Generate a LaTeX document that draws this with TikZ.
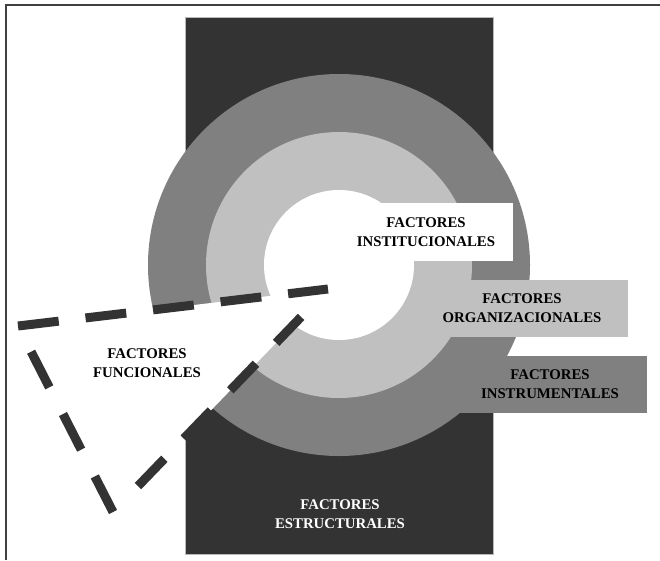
\documentclass[tikz,border=0pt]{standalone}
\usepackage{fontspec}
\setmainfont{Liberation Serif}
\usepackage{xcolor}
\usepackage{tikz}
\definecolor{darkfill}{HTML}{333333}
\definecolor{midfill}{HTML}{808080}
\definecolor{lightfill}{HTML}{C0C0C0}

\begin{document}
\begin{tikzpicture}[x=1pt,y=-1pt,
            font=\bfseries\fontsize{14.8}{19}\selectfont]
        \tikzstyle{factor}=[align=center,inner sep=0pt]
        \tikzstyle{factorbox}=[factor,anchor=center]
        \tikzstyle{dashline}=[draw=darkfill,line width=9pt]

        \useasboundingbox (0,0) rectangle (660,560);
        \draw[line width=2pt,black!75] (6,560) -- (6,4.5) -- (660,4.5);

        \draw[fill=darkfill,draw=gray!55,line width=1pt] (185,17) rectangle (493,554);
        \fill[midfill] (339,265) circle (191);
        \node[factorbox,fill=midfill,minimum width=194pt,minimum height=57pt] (instr) at (550,384.5) {FACTORES\\INSTRUMENTALES};
        \fill[lightfill] (339,265) circle (133);
        \node[factorbox,fill=lightfill,minimum width=212pt,minimum height=57pt] (org) at (522,308.5) {FACTORES\\ORGANIZACIONALES};
        \fill[white] (339,265) circle (75);
        \node[factorbox,fill=white,minimum width=174pt,minimum height=58pt] (inst) at (426,232) {FACTORES\\INSTITUCIONALES};

        \coordinate (apex) at (328,289);
        \coordinate (left) at (18,326);
        \coordinate (tip) at (113,512);
        \fill[white] (apex) -- (left) -- (tip) -- cycle;
        \draw[dashline,dash pattern=on 41pt off 27pt] (left) -- (apex);
        \draw[dashline,dash pattern=on 40pt off 30pt] (tip) -- (left);
        \draw[dashline,dash pattern=on 0pt off 36pt on 38pt off 28pt on 39pt off 28pt on 37pt off 29pt on 36pt off 60pt] (tip) -- (apex);

        \node[factor] (func) at (147,363) {FACTORES\\FUNCIONALES};
        \node[factor,text=white] (estr) at (340,514) {FACTORES\\ESTRUCTURALES};
    \end{tikzpicture}
\end{document}
